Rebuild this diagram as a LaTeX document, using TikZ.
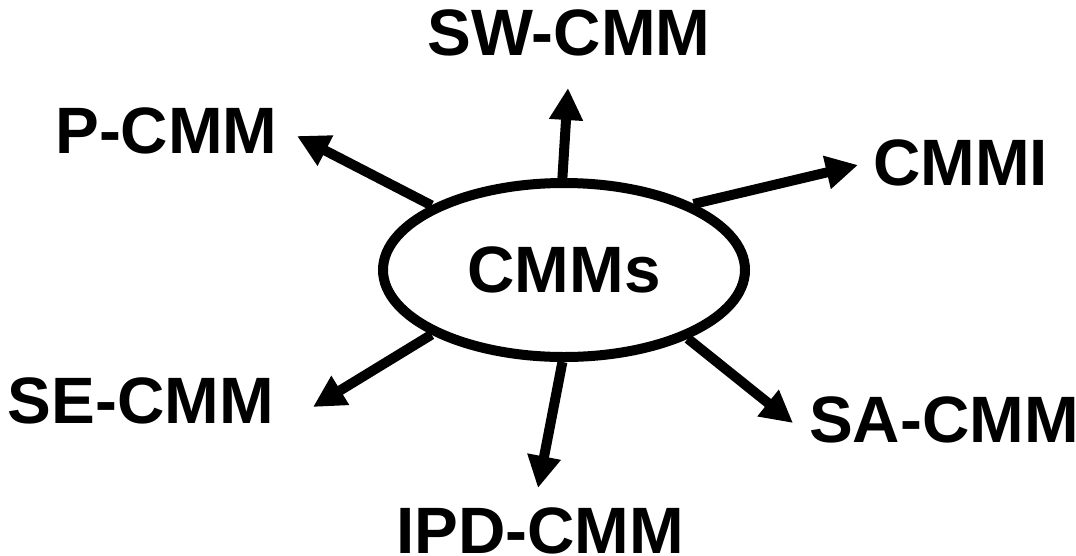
\documentclass[tikz,border=0pt]{standalone}
\usepackage{fontspec}
\setmainfont{Liberation Sans}
\usetikzlibrary{arrows.meta,shapes.geometric}
\begin{document}
\begin{tikzpicture}[x=1pt,y=-1pt,
  lbl/.style={font=\fontsize{65.6}{70}\selectfont\bfseries, inner sep=0pt, anchor=base},
  conn/.style={line width=10pt, -{Triangle[length=32pt,width=32pt]}}]
\useasboundingbox (0,0) rectangle (1076,555);
\node[draw, ellipse, line width=10pt, minimum width=362pt, minimum height=174pt, inner sep=0pt,
      font=\fontsize{65.6}{70}\selectfont\bfseries] (e) at (564,270) {CMMs};
\node[lbl] (p) at (166.5,153) {P-CMM};
\node[lbl] (sw) at (569,55) {SW-CMM};
\node[lbl] (cmmi) at (960.5,185) {CMMI};
\node[lbl] (se) at (141,423) {SE-CMM};
\node[lbl] (ipd) at (540,553) {IPD-CMM};
\node[lbl] (sa) at (944,442) {SA-CMM};
\coordinate (tp) at (297,136);
\coordinate (tsw) at (568,88);
\coordinate (tcmmi) at (858,165);
\coordinate (tse) at (313,407);
\coordinate (tipd) at (538,488);
\coordinate (tsa) at (793,423);
\draw[conn] (e.154) -- (tp);
\draw[conn] (e.91) -- (tsw);
\draw[conn] (e.27.6) -- (tcmmi);
\draw[conn] (e.206.9) -- (tse);
\draw[conn] (e.269.4) -- (tipd);
\draw[conn] (e.331.6) -- (tsa);
\end{tikzpicture}
\end{document}
